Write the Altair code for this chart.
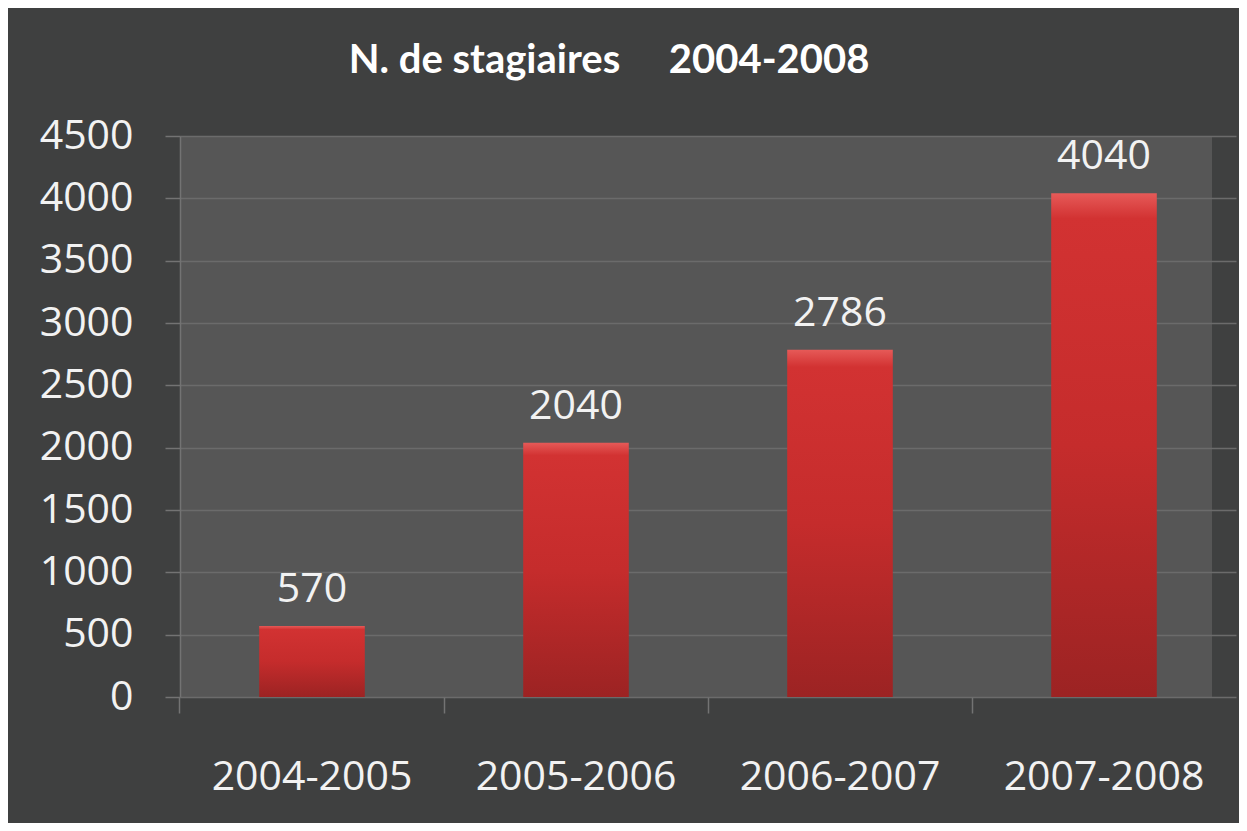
import altair as alt
import pandas as pd

periods = ["2004-2005", "2005-2006", "2006-2007", "2007-2008"]
stagiaires = [570, 2040, 2786, 4040]
y_ticks = [0, 500, 1000, 1500, 2000, 2500, 3000, 3500, 4000, 4500]
title_text = "N. de stagiaires\u00a0\u00a0\u00a0\u00a0 2004-2008"

df = pd.DataFrame({"periode": periods, "n": stagiaires})

FONT = "Open Sans"
LABEL = "#f2f2f2"
LINE = "#737373"

x = alt.X(
    "periode:N", sort=periods, title=None,
    scale=alt.Scale(range=[0, 1056], paddingInner=0.6, paddingOuter=0.3),
    axis=alt.Axis(labelAngle=0, labelFontSize=41, labelColor=LABEL, labelFont=FONT,
                  labelPadding=44, labelLimit=0, tickSize=16, tickColor=LINE, tickWidth=1.5,
                  domain=False, grid=False, bandPosition=-0.75),
)
y = alt.Y(
    "n:Q", title=None,
    scale=alt.Scale(domain=[0, 4500], nice=False),
    axis=alt.Axis(values=y_ticks, format="d", labelFontSize=41, labelColor=LABEL,
                  labelFont=FONT, labelPadding=32, tickSize=15, tickColor=LINE,
                  tickWidth=1.5, domainColor=LINE, domainWidth=1.5, grid=True,
                  gridColor="#6b6b6b", gridWidth=1.5),
)

grad = alt.LinearGradient(
    gradient="linear",
    stops=[alt.GradientStop(color="#e65a58", offset=0),
           alt.GradientStop(color="#d23232", offset=0.05),
           alt.GradientStop(color="#c52c2c", offset=0.5),
           alt.GradientStop(color="#9c2323", offset=1)],
    x1=0, x2=0, y1=0, y2=1,
)

bars = alt.Chart(df).mark_bar(color=grad).encode(x=x, y=y)
labels = alt.Chart(df).mark_text(
    dy=-24, baseline="alphabetic", fontSize=41, color=LABEL, font=FONT
).encode(x=x, y=y, text="n:Q")

chart = alt.layer(bars, labels).properties(
    width=1032, height=561,
    autosize="none",
    padding={"left": 172, "top": 128, "right": 27, "bottom": 126},
    background="#3f4040",
    title=alt.TitleParams(text=title_text, font="Lato", fontSize=40, fontWeight="bold",
                          color="#ffffff", anchor="middle", dx=-87, offset=34),
).configure_view(fill="#565656", strokeWidth=0)

chart.save("out.html", embed_options={"renderer": "svg", "actions": False})
